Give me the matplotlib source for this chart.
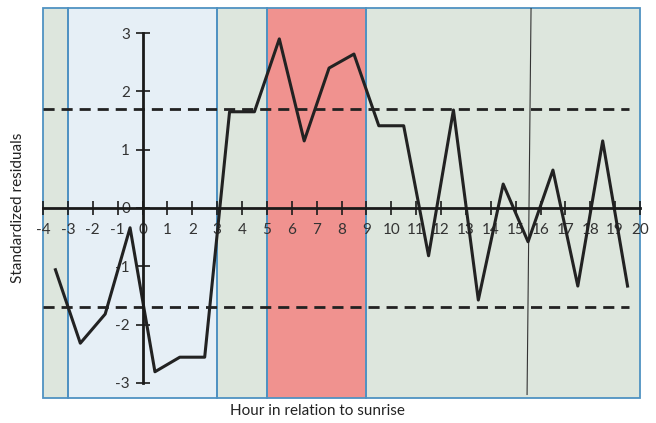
import matplotlib
matplotlib.use("Agg")
import matplotlib.pyplot as plt
from matplotlib.patches import Rectangle

# hour relative to sunrise (half-hour midpoints) and standardized residuals
hours = [-3.5, -2.5, -1.5, -0.5, 0.5, 1.5, 2.5, 3.5, 4.5, 5.5, 6.5, 7.5,
         8.5, 9.5, 10.5, 11.5, 12.5, 13.5, 14.5, 15.5, 16.5, 17.5, 18.5, 19.5]
residuals = [-1.06, -2.32, -1.82, -0.34, -2.81, -2.56, -2.56, 1.65, 1.65, 2.9,
             1.15, 2.4, 2.64, 1.41, 1.41, -0.82, 1.68, -1.58, 0.41, -0.58,
             0.65, -1.34, 1.15, -1.34]

# shaded periods: (start, end, colour)
period_bounds = [(-4, -3), (-3, 3), (3, 5), (5, 9), (9, 20)]
period_colors = ["#dde6dd", "#e6eff6", "#dde6dd", "#f0928f", "#dde6dd"]
limit = 1.7
x_ticks = list(range(-4, 21))
y_ticks = [-3, -2, -1, 0, 1, 2, 3]
x_tick_labels = [str(t) for t in x_ticks]
y_tick_labels = [str(t) for t in y_ticks]

plt.rcParams["font.family"] = ["Lato", "DejaVu Sans"]

fig = plt.figure(figsize=(6.56, 4.23), dpi=100)
ax = fig.add_axes([43 / 656, 25 / 423, 597 / 656, 390 / 423])
ax.set_xlim(-4, 20)
ax.set_ylim(-3.26, 3.43)

for (x0, x1), col in zip(period_bounds, period_colors):
    ax.axvspan(x0, x1, color=col, zorder=0, lw=0)
    ax.add_patch(Rectangle((x0, -3.26), x1 - x0, 6.69, fill=False,
                           edgecolor="#4f92c2", lw=1.3, zorder=1, clip_on=False))

# thin stray vertical line from the original figure
ax.plot([15.62, 15.46], [3.43, -3.2], color="#333333", lw=0.8, zorder=2)

ax.hlines([limit, -limit], -4, 19.55, colors="#222222", linestyles=(0, (4, 2.5)),
          lw=2, zorder=3)
ax.plot(hours, residuals, color="#222222", lw=2.2, zorder=4)

for side in ("top", "right"):
    ax.spines[side].set_visible(False)
ax.spines["left"].set_position(("data", 0))
ax.spines["bottom"].set_position(("data", 0))
ax.spines["left"].set_bounds(-3, 3)
for side in ("left", "bottom"):
    ax.spines[side].set_linewidth(2)
    ax.spines[side].set_color("#1a1a1a")
    ax.spines[side].set_zorder(5)

ax.set_xticks(x_ticks, x_tick_labels)
ax.set_yticks(y_ticks, y_tick_labels)
ax.tick_params(axis="both", direction="inout", length=10, width=1.2,
               colors="#1a1a1a", labelcolor="#333333", labelsize=11)
ax.tick_params(axis="x", pad=6)
ax.tick_params(axis="y", pad=4)

fig.text(18 / 656, 1 - 208 / 423, "Standardized residuals", rotation=90,
         ha="center", va="center", fontsize=11, color="#222222")
fig.text(317 / 656, 1 - 411 / 423, "Hour in relation to sunrise",
         ha="center", va="center", fontsize=11, color="#222222")

fig.savefig("out.png", dpi=100)
